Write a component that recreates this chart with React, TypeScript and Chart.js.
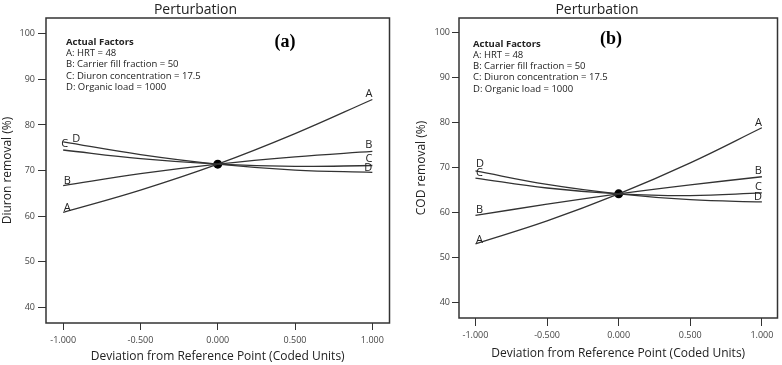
import { useEffect, useRef } from "react";
import { Chart, registerables } from "chart.js";

Chart.register(...registerables);

// ---- data ----
const deviation = [-1, -0.5, 0, 0.5, 1];
const xTicks = [-1, -0.5, 0, 0.5, 1];
const xTickLabels = ["-1.000", "-0.500", "0.000", "0.500", "1.000"];
const yTicks = [40, 50, 60, 70, 80, 90, 100];
const factorNames = ["A", "B", "C", "D"];
const actualFactors = [
  "A: HRT = 48",
  "B: Carrier fill fraction = 50",
  "C: Diuron concentration = 17.5",
  "D: Organic load = 1000",
];

// Diuron removal (%) vs coded deviation
const diuronA = [60.8, 65.7, 71.4, 78.1, 85.6];
const diuronB = [66.7, 69.3, 71.4, 73.0, 74.2];
const diuronC = [74.5, 72.6, 71.4, 70.9, 71.1];
const diuronD = [76.3, 73.5, 71.4, 70.1, 69.6];
const diuronRef = 71.4;

// COD removal (%) vs coded deviation
const codA = [53.0, 58.1, 64.1, 71.0, 78.8];
const codB = [59.3, 61.8, 64.1, 66.1, 67.9];
const codC = [67.6, 65.4, 64.1, 63.7, 64.3];
const codD = [69.2, 66.2, 64.1, 62.8, 62.3];
const codRef = 64.1;

// ---- styling ----
const SANS = "'Open Sans', 'Noto Sans', sans-serif";
const SERIF = "'Liberation Serif', 'DejaVu Serif', serif";
const INK = "#222222";
const LINE = "#333333";

type PanelStyle = {
  left: number;
  width: number;
  padLeft: number;
  padRight: number;
  padBottom: number;
  yAxisWidth: number;
  xAxisHeight: number;
  xTickLength: number;
  xTickPad: number;
  yTickLength: number;
  yTickPad: number;
  xMin: number;
  xMax: number;
  yMin: number;
  yMax: number;
  tagX: number;
  tagY: number;
  factorsX: number;
  factorsY: number;
  factorsGap: number;
  startDx: number[];
  startDy: number[];
  endDy: number[];
};

const panelA: PanelStyle = {
  left: 0,
  width: 394,
  padLeft: 0,
  padRight: 3,
  padBottom: 0,
  yAxisWidth: 46,
  xAxisHeight: 42,
  xTickLength: 7,
  xTickPad: 5,
  yTickLength: 8,
  yTickPad: 3,
  xMin: -1.111,
  xMax: 1.111,
  yMin: 36.5,
  yMax: 103.5,
  tagX: 285,
  tagY: 42,
  factorsX: 66,
  factorsY: 42,
  factorsGap: 11.3,
  startDx: [0.5, 0.5, -2, 9],
  startDy: [-1.5, -2, -3, 0],
  endDy: [-2, -3, -3, -1.5],
};

const panelB: PanelStyle = {
  left: 391,
  width: 391,
  padLeft: 23,
  padRight: 2,
  padBottom: 3,
  yAxisWidth: 45,
  xAxisHeight: 44,
  xTickLength: 8,
  xTickPad: 4,
  yTickLength: 7,
  yTickPad: 2,
  xMin: -1.115,
  xMax: 1.109,
  yMin: 36.5,
  yMax: 103.2,
  tagX: 220,
  tagY: 39,
  factorsX: 82,
  factorsY: 44,
  factorsGap: 11.25,
  startDx: [0.5, 0.5, 0.5, 0.5],
  startDy: [-0.5, -2, -2, -4],
  endDy: [-2, -3, -3, -2],
};

type PanelSpec = {
  tag: string;
  yTitle: string;
  series: number[][];
  ref: number;
  style: PanelStyle;
};

const panels: PanelSpec[] = [
  { tag: "(a)", yTitle: "Diuron removal (%)", series: [diuronA, diuronB, diuronC, diuronD], ref: diuronRef, style: panelA },
  { tag: "(b)", yTitle: "COD removal (%)", series: [codA, codB, codC, codD], ref: codRef, style: panelB },
];

// Frame around the plot area, factor labels at line ends, info block and panel tag
const decorPlugin = {
  id: "perturbationDecor",
  afterDraw(chart: any, _args: any, opts: any) {
    const { ctx, chartArea } = chart;
    const spec: PanelSpec = opts.spec;
    const st = spec.style;
    const xs = chart.scales.x;
    const ys = chart.scales.y;
    ctx.save();

    // frame
    ctx.strokeStyle = LINE;
    ctx.lineWidth = 1.5;
    ctx.strokeRect(chartArea.left, chartArea.top, chartArea.right - chartArea.left, chartArea.bottom - chartArea.top);

    // factor letters at both ends of every trace
    ctx.fillStyle = INK;
    ctx.font = `11px ${SANS}`;
    ctx.textBaseline = "alphabetic";
    spec.series.forEach((vals, i) => {
      const x0 = xs.getPixelForValue(deviation[0]);
      const y0 = ys.getPixelForValue(vals[0]);
      ctx.textAlign = "left";
      ctx.fillText(factorNames[i], x0 + st.startDx[i], y0 + st.startDy[i]);
      const n = vals.length - 1;
      const x1 = xs.getPixelForValue(deviation[n]);
      const y1 = ys.getPixelForValue(vals[n]);
      ctx.textAlign = "right";
      ctx.fillText(factorNames[i], x1, y1 + st.endDy[i]);
    });

    // actual factors block
    ctx.textAlign = "left";
    ctx.textBaseline = "middle";
    ctx.font = `bold 9.5px ${SANS}`;
    ctx.fillText("Actual Factors", st.factorsX, st.factorsY);
    ctx.font = `9.5px ${SANS}`;
    actualFactors.forEach((t, i) => {
      ctx.fillText(t, st.factorsX, st.factorsY + st.factorsGap * (i + 1));
    });

    // panel tag
    ctx.fillStyle = "#000";
    ctx.font = `bold 18px ${SERIF}`;
    ctx.textAlign = "center";
    ctx.fillText(spec.tag, st.tagX, st.tagY);
    ctx.restore();
  },
};

function PerturbationPanel({ spec }: { spec: PanelSpec }) {
  const ref = useRef<HTMLCanvasElement | null>(null);

  useEffect(() => {
    const canvas = ref.current;
    if (!canvas) return;
    const st = spec.style;
    const lineSets = spec.series.map((vals, i) => ({
      label: factorNames[i],
      data: deviation.map((x, j) => ({ x, y: vals[j] })),
      borderColor: LINE,
      borderWidth: 1.3,
      pointRadius: 0,
      tension: 0.4,
      fill: false,
    }));
    const chart = new Chart(canvas, {
      type: "line",
      data: {
        datasets: [
          ...lineSets,
          {
            label: "reference",
            data: [{ x: 0, y: spec.ref }],
            showLine: false,
            pointRadius: 4.5,
            pointBackgroundColor: "#000",
            pointBorderWidth: 0,
            borderColor: "#000",
          },
        ],
      },
      options: {
        responsive: false,
        animation: false,
        devicePixelRatio: 1,
        layout: { padding: { left: st.padLeft, right: st.padRight, top: 0, bottom: st.padBottom } },
        plugins: {
          legend: { display: false },
          tooltip: { enabled: false },
          title: {
            display: true,
            text: "Perturbation",
            color: INK,
            font: { family: SANS, size: 14, weight: "normal" },
            padding: { top: 1.2, bottom: 0 },
          },
          perturbationDecor: { spec },
        } as any,
        scales: {
          x: {
            type: "linear",
            min: st.xMin,
            max: st.xMax,
            afterBuildTicks: (s: any) => {
              s.ticks = xTicks.map((v) => ({ value: v }));
            },
            afterFit: (s: any) => {
              s.height = st.xAxisHeight;
            },
            ticks: {
              autoSkip: false,
              maxRotation: 0,
              padding: st.xTickPad,
              color: "#444",
              font: { family: SANS, size: 9 },
              callback: (v: any) => xTickLabels[xTicks.indexOf(Number(v))] ?? "",
            },
            grid: { drawOnChartArea: false, drawTicks: true, tickLength: st.xTickLength, color: LINE, lineWidth: 1 },
            border: { display: false },
            title: {
              display: true,
              text: "Deviation from Reference Point (Coded Units)",
              color: INK,
              font: { family: SANS, size: 12 },
              padding: { top: 0, bottom: 1 },
            },
          },
          y: {
            type: "linear",
            min: st.yMin,
            max: st.yMax,
            afterBuildTicks: (s: any) => {
              s.ticks = yTicks.map((v) => ({ value: v }));
            },
            afterFit: (s: any) => {
              s.width = st.yAxisWidth;
            },
            ticks: {
              autoSkip: false,
              padding: st.yTickPad,
              color: "#444",
              font: { family: SANS, size: 9 },
              callback: (v: any) => String(v),
            },
            grid: { drawOnChartArea: false, drawTicks: true, tickLength: st.yTickLength, color: LINE, lineWidth: 1 },
            border: { display: false },
            title: {
              display: true,
              text: spec.yTitle,
              color: INK,
              font: { family: SANS, size: 12 },
              padding: { top: 0, bottom: 0 },
            },
          },
        },
      },
      plugins: [decorPlugin],
    } as any);
    return () => chart.destroy();
  }, [spec]);

  const st = spec.style;
  return (
    <canvas
      ref={ref}
      width={st.width}
      height={365}
      style={{ position: "absolute", left: st.left, top: 0, width: st.width, height: 365, display: "block" }}
    />
  );
}

export default function App() {
  return (
    <div style={{ position: "absolute", left: 0, top: 0, width: 782, height: 365, background: "#fff", overflow: "hidden" }}>
      {panels.map((p) => (
        <PerturbationPanel key={p.tag} spec={p} />
      ))}
    </div>
  );
}
